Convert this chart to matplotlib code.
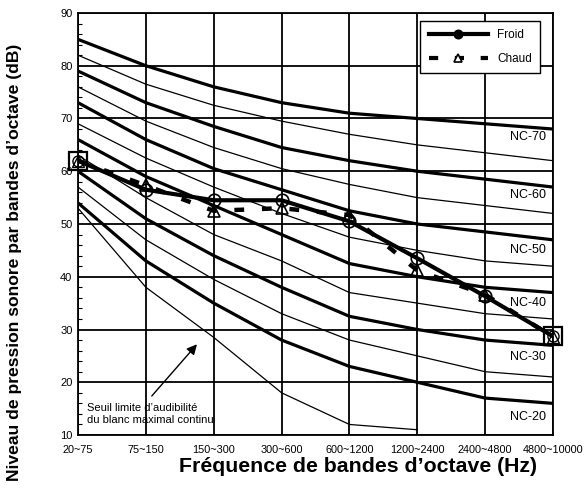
import numpy as np
import matplotlib.pyplot as plt

plt.rcParams['font.family'] = ['Liberation Sans', 'DejaVu Sans']

bands = ['20~75', '75~150', '150~300', '300~600', '600~1200',
         '1200~2400', '2400~4800', '4800~10000']

# NC curves (dB per octave band)
nc70 = [85, 80, 76, 73, 71, 70, 69, 68]
nc65 = [82, 76.5, 72.5, 69.5, 67, 65, 63.5, 62]
nc60 = [79, 73, 68.5, 64.5, 62, 60, 58.5, 57]
nc55 = [76, 69.5, 64.5, 60.5, 57.5, 55, 53.5, 52]
nc50 = [73, 66, 60.5, 56.5, 52.5, 50, 48.5, 47]
nc45 = [69, 62.5, 57, 52, 47.5, 45, 43, 42]
nc40 = [66, 59, 53.5, 48, 42.5, 40, 38, 37]
nc35 = [63, 55, 48, 43, 37, 35, 33, 32]
nc30 = [60, 51, 44, 38, 32.5, 30, 28, 27]
nc25 = [57, 47, 39.5, 33, 28, 25, 22, 21]
nc20 = [54, 43, 35, 28, 23, 20, 17, 16]
seuil = [53, 38, 28.5, 18, 12, 11]

thick_curves = [nc70, nc60, nc50, nc40, nc30, nc20]
thin_curves = [nc65, nc55, nc45, nc35, nc25]
nc_names = ['NC-70', 'NC-60', 'NC-50', 'NC-40', 'NC-30', 'NC-20']
nc_label_y = [66.5, 55.5, 45, 35, 24.8, 13.4]

froid = [62, 56.5, 54.5, 54.5, 50.5, 43.5, 36.3, 28.7]
chaud = [62, 57.3, 52.5, 53, 51.7, 41.2, 36.6, 28.6]

x = np.arange(len(bands))
dash = (0, (2.2, 4))

fig = plt.figure(figsize=(5.84, 4.9), dpi=100)
ax = fig.add_axes([0.1336, 0.1122, 0.8134, 0.8613])

for c in thick_curves:
    ax.plot(x, c, color='black', lw=2.3, zorder=3)
for c in thin_curves:
    ax.plot(x, c, color='black', lw=0.9, zorder=3)
ax.plot(x[:len(seuil)], seuil, color='black', lw=0.9, zorder=3)

for name, yl in zip(nc_names, nc_label_y):
    ax.text(6.9, yl, name, ha='right', va='center', fontsize=9, zorder=4)

# measured spectra
ax.plot(x, chaud, color='black', lw=3.2, ls=dash, zorder=5)
ax.plot(x, froid, color='black', lw=3, zorder=5)
ax.plot(x[1:-1], froid[1:-1], ls='none', marker='o', ms=9, mfc='none',
        mec='black', mew=1.2, zorder=6)
ax.plot(x[1:-1], chaud[1:-1], ls='none', marker='^', ms=9, mfc='none',
        mec='black', mew=1.2, zorder=6)
ax.plot([x[0], x[-1]], [froid[0], froid[-1]], ls='none', marker='s', ms=13,
        mfc='none', mec='black', mew=1.6, zorder=7, clip_on=False)
ax.plot([x[0], x[-1]], [chaud[0], chaud[-1]], ls='none', marker='^', ms=8,
        mfc='none', mec='black', mew=1, zorder=7, clip_on=False)
ax.plot([x[0], x[-1]], [froid[0], froid[-1]], ls='none', marker='o', ms=8,
        mfc='none', mec='black', mew=1, zorder=7, clip_on=False)

h1, = ax.plot([], [], color='black', lw=3, marker='o', ms=6, mfc='black',
              mec='black', mew=1.2)
h2, = ax.plot([], [], color='black', lw=3, ls=dash, marker='^',
              ms=6, mfc='white', mec='black', mew=1.2)
leg = ax.legend([h1, h2], ['Froid', 'Chaud'], loc='upper right',
                bbox_to_anchor=(0.985, 0.995), fontsize=8.5, fancybox=False,
                framealpha=1, edgecolor='black', handlelength=5,
                borderpad=0.7, labelspacing=1.0)
leg.get_frame().set_linewidth(1)
leg.set_zorder(10)

ax.annotate('', xy=(1.78, 27.6), xytext=(1.06, 17),
            arrowprops=dict(arrowstyle='-|>', color='black', lw=1,
                            mutation_scale=15), zorder=4)
ax.text(0.13, 14.0, 'Seuil limite d\u2019audibilit\u00e9\ndu blanc maximal continu',
        fontsize=8, ha='left', va='center', linespacing=1.25, zorder=4)

ax.set_xlim(0, 7)
ax.set_ylim(10, 90)
ax.set_xticks(x)
ax.set_xticklabels(bands, fontsize=7.8)
ax.set_yticks(np.arange(10, 91, 10))
ax.set_yticks(np.arange(10, 91, 2), minor=True)
ax.tick_params(axis='y', which='major', length=0, labelsize=8, pad=4)
ax.tick_params(axis='y', which='minor', direction='in', length=3, width=0.8)
ax.tick_params(axis='x', length=0, pad=7)
ax.grid(True, which='major', color='black', lw=1.3)
for s in ax.spines.values():
    s.set_linewidth(1.3)

ax.set_xlabel('Fr\u00e9quence de bandes d\u2019octave (Hz)', fontsize=15.3,
              fontweight='bold')
ax.xaxis.set_label_coords(0.59, -0.052)
ax.set_ylabel('Niveau de pression sonore par bandes d\u2019octave (dB)',
              fontsize=12.6, fontweight='bold')
ax.yaxis.set_label_coords(-0.118, 0.41)

fig.savefig('out.png', dpi=100)
